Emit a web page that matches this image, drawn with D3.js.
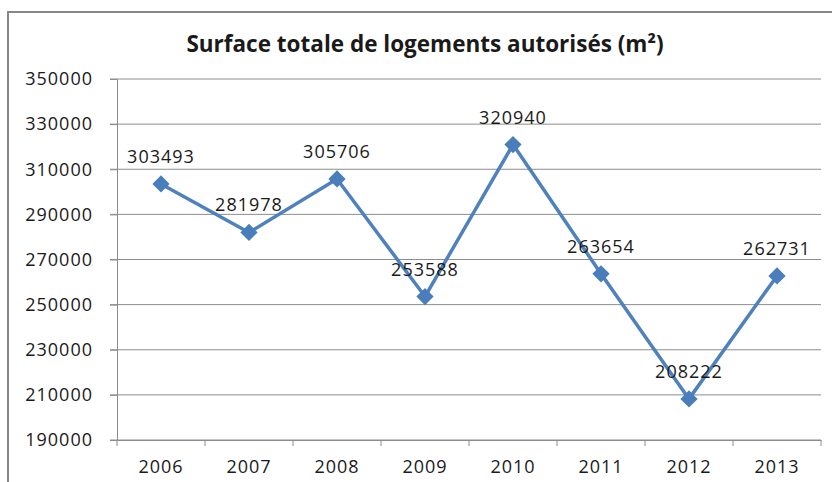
<!doctype html>
<html lang="fr">
<head>
<meta charset="UTF-8">
<script src="https://d3js.org/d3.v7.min.js"></script>
<title>Surface totale de logements autorisés</title>
<style>
    body { margin: 0; background: #fff; }
    text { font-family: "Open Sans", sans-serif; fill: #1a1a1a; }
</style>
</head>
<body>
<div class="container"></div>
<script>
    // donnees
    let years = ['2006', '2007', '2008', '2009', '2010', '2011', '2012', '2013'];
    let surfaces = [303493, 281978, 305706, 253588, 320940, 263654, 208222, 262731];
    let yTicks = [190000, 210000, 230000, 250000, 270000, 290000, 310000, 330000, 350000];

    let W = 832, H = 482;
    let plotLeft = 117, plotRight = 821, plotTop = 79, plotBottom = 440;

    let svg = d3.select('.container').append('svg')
        .attr('width', W)
        .attr('height', H);

    // cadre exterieur
    svg.append('rect')
        .attr('x', 8).attr('y', 12)
        .attr('width', W + 20).attr('height', H + 20)
        .attr('fill', 'none')
        .attr('stroke', '#878787')
        .attr('stroke-width', 2);

    svg.append('text')
        .attr('x', 425).attr('y', 52)
        .attr('text-anchor', 'middle')
        .style('font-size', '22.5px')
        .style('font-weight', 'bold')
        .text('Surface totale de logements autorisés (m²)');

    let x = d3.scaleBand().domain(years).range([plotLeft, plotRight]);
    let y = d3.scaleLinear().domain([190000, 350000]).range([plotBottom, plotTop]);

    // grille horizontale
    svg.append('g').selectAll('line')
        .data(yTicks).enter().append('line')
        .attr('x1', plotLeft - 7).attr('x2', plotRight)
        .attr('y1', d => y(d)).attr('y2', d => y(d))
        .attr('stroke', '#8c8c8c')
        .attr('stroke-width', 1);

    // axe Y
    let yAxis = svg.append('g')
        .attr('transform', 'translate(' + plotLeft + ',0)')
        .call(d3.axisLeft(y).tickValues(yTicks).tickSize(7).tickPadding(17).tickFormat(d3.format('d')));
    yAxis.select('.domain').attr('stroke', '#8c8c8c');
    yAxis.selectAll('.tick line').attr('stroke', '#8c8c8c');
    yAxis.selectAll('text').style('font-size', '18px').style('letter-spacing', '1px').attr('fill', '#1a1a1a');

    // axe X
    let xAxis = svg.append('g')
        .attr('transform', 'translate(0,' + plotBottom + ')')
        .call(d3.axisBottom(x).tickSize(0).tickPadding(20));
    xAxis.select('.domain').attr('stroke', '#8c8c8c');
    xAxis.selectAll('text').style('font-size', '18px').style('letter-spacing', '1px').attr('fill', '#1a1a1a');
    // petites graduations entre les annees
    xAxis.selectAll('line.sep')
        .data(years.concat(['end'])).enter().append('line')
        .attr('class', 'sep')
        .attr('x1', (d, i) => plotLeft + i * x.bandwidth())
        .attr('x2', (d, i) => plotLeft + i * x.bandwidth())
        .attr('y1', 0).attr('y2', 6)
        .attr('stroke', '#8c8c8c');

    let cx = d => x(d) + x.bandwidth() / 2;

    let line = d3.line()
        .x((d, i) => cx(years[i]))
        .y(d => y(d));

    svg.append('path')
        .datum(surfaces)
        .attr('d', line)
        .attr('fill', 'none')
        .attr('stroke', '#4f81bd')
        .attr('stroke-width', 3.5)
        .attr('stroke-linejoin', 'round');

    svg.append('g').selectAll('path')
        .data(surfaces).enter().append('path')
        .attr('d', d3.symbol().type(d3.symbolDiamond2).size(190))
        .attr('transform', (d, i) => 'translate(' + cx(years[i]) + ',' + y(d) + ')')
        .attr('fill', '#4a7ebb');

    svg.append('g').selectAll('text')
        .data(surfaces).enter().append('text')
        .attr('x', (d, i) => cx(years[i]))
        .attr('y', d => y(d) - 21)
        .attr('text-anchor', 'middle')
        .style('font-size', '18px')
        .style('letter-spacing', '1px')
        .text(d => d);
</script>
</body>
</html>
